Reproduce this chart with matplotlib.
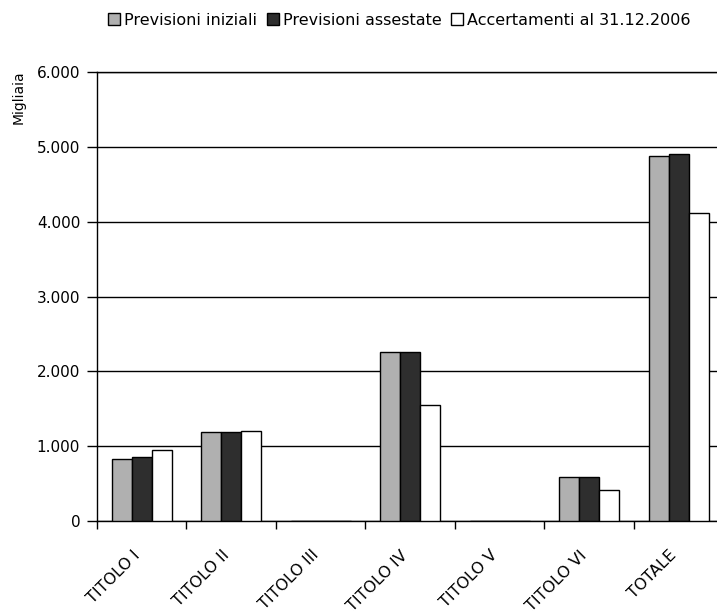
import matplotlib
matplotlib.use('Agg')
import matplotlib.pyplot as plt
import matplotlib.transforms as mtransforms
import numpy as np
from matplotlib.patches import Patch

# data (thousands)
categorie = ['TITOLO I', 'TITOLO II', 'TITOLO III', 'TITOLO IV', 'TITOLO V', 'TITOLO VI', 'TOTALE']
previsioni_iniziali = [829, 1194, 0, 2263, 0, 592, 4878]
previsioni_assestate = [860, 1194, 0, 2263, 0, 592, 4909]
accertamenti = [949, 1207, 0, 1551, 0, 414, 4121]
serie_nomi = ['Previsioni iniziali', 'Previsioni assestate', 'Accertamenti al 31.12.2006']
y_ticks = [0, 1000, 2000, 3000, 4000, 5000, 6000]
y_labels = ['0', '1.000', '2.000', '3.000', '4.000', '5.000', '6.000']

plt.rcParams['font.family'] = ['DejaVu Sans']

fig = plt.figure(figsize=(7.17, 6.13), dpi=100)
ax = fig.add_axes([0.135, 0.150, 0.874, 0.7325])

x = np.arange(len(categorie))
w = 0.223
colori = ['#b0b0b0', '#2e2e2e', 'white']
for i, (vals, col) in enumerate(zip([previsioni_iniziali, previsioni_assestate, accertamenti], colori)):
    ax.bar(x + (i - 1) * w, vals, width=w, color=col, edgecolor='black', linewidth=1.0, zorder=3)

ax.set_xlim(-0.5, len(categorie) - 0.5)
ax.set_ylim(0, 6000)
ax.set_yticks(y_ticks)
ax.set_yticklabels(y_labels, fontsize=11)
ax.yaxis.grid(True, color='black', linewidth=1.0, zorder=0)

ax.set_xticks(x)
ax.set_xticklabels(categorie, rotation=45, ha='right', va='top', rotation_mode='anchor', fontsize=11.5)
ax.tick_params(axis='x', length=0, pad=19)
shift = mtransforms.ScaledTranslation(-7 / 72, 0, fig.dpi_scale_trans)
for lab in ax.get_xticklabels():
    lab.set_transform(lab.get_transform() + shift)
ax.set_xticks(np.arange(len(categorie)) - 0.5, minor=True)
ax.tick_params(axis='x', which='minor', length=6, width=1, direction='out')
ax.tick_params(axis='y', length=7, width=1, direction='out', pad=5)

ax.spines['right'].set_visible(False)
for s in ['left', 'bottom', 'top']:
    ax.spines[s].set_linewidth(1.0)

ax.set_ylabel('Migliaia', fontsize=10)
ax.yaxis.set_label_coords(-0.124, 1.004)
ax.yaxis.label.set_va('center')
ax.yaxis.label.set_ha('right')

handles = [Patch(facecolor=c, edgecolor='black', linewidth=1.0) for c in colori]
fig.legend(handles, serie_nomi, loc='center', bbox_to_anchor=(0.557, 0.967), ncol=3,
           frameon=False, fontsize=11.5, handlelength=0.75, handleheight=0.75,
           handletextpad=0.25, columnspacing=0.6)

fig.savefig('out.png', dpi=100)
